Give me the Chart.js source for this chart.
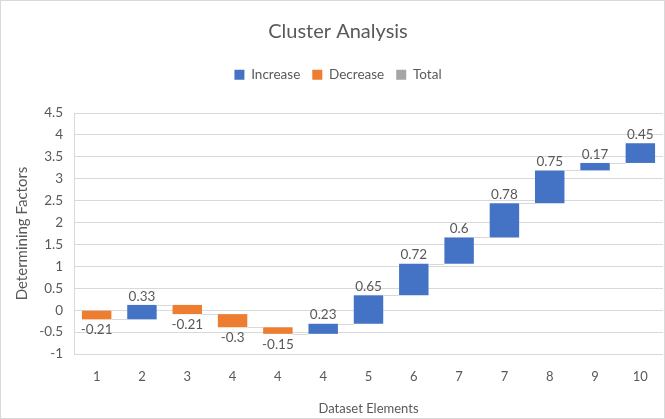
<!DOCTYPE html>
<html>
<head>
<meta charset="utf-8">
<script src="https://cdn.jsdelivr.net/npm/chart.js@4/dist/chart.umd.min.js"></script>
<style>
  html, body { margin: 0; padding: 0; background: #fff; }
  canvas { display: block; }
</style>
</head>
<body>
<canvas id="chart" width="665" height="419"></canvas>
<script>
// waterfall data
const categories = ['1', '2', '3', '4', '4', '4', '5', '6', '7', '7', '8', '9', '10'];
const changes = [-0.21, 0.33, -0.21, -0.3, -0.15, 0.23, 0.65, 0.72, 0.6, 0.78, 0.75, 0.17, 0.45];
const yMin = -1;
const yMax = 4.5;
const yStep = 0.5;

const BLUE = '#4472C4';
const ORANGE = '#ED7D31';
const GRAY = '#A5A5A5';
const TEXT = '#595959';
const FONT = 'Lato, "Liberation Sans", sans-serif';

// build floating [start, end] ranges from the running total
const starts = [];
const ends = [];
let running = 0;
changes.forEach(c => {
    starts.push(running);
    running = +(running + c).toFixed(2);
    ends.push(running);
});
const increaseData = changes.map((c, i) => c >= 0 ? [starts[i], ends[i]] : null);
const decreaseData = changes.map((c, i) => c < 0 ? [starts[i], ends[i]] : null);
const totalData = changes.map(() => null);

// thin gray steps between the bars + the value labels
const waterfallPlugin = {
    id: 'waterfall',
    beforeLayout(chart) {
        // leave some air between the legend and the plot
        const legend = chart.legend;
        if (legend && !legend._patched) {
            const fit = legend.fit;
            legend.fit = function () {
                fit.call(this);
                this.height += 21.5;
            };
            legend._patched = true;
        }
    },
    afterDatasetsDraw(chart) {
        const ctx = chart.ctx;
        const yScale = chart.scales.y;
        const bars = changes.map((c, i) => chart.getDatasetMeta(c >= 0 ? 0 : 1).data[i]);

        ctx.save();
        ctx.strokeStyle = '#D9D9D9';
        ctx.lineWidth = 1;
        for (let i = 0; i < bars.length - 1; i++) {
            const y = Math.round(yScale.getPixelForValue(ends[i])) + 0.5;
            const x1 = bars[i].x + bars[i].width / 2;
            const x2 = bars[i + 1].x - bars[i + 1].width / 2;
            ctx.beginPath();
            ctx.moveTo(x1, y);
            ctx.lineTo(x2, y);
            ctx.stroke();
        }

        ctx.fillStyle = TEXT;
        ctx.font = '13.5px ' + FONT;
        ctx.textAlign = 'center';
        changes.forEach((c, i) => {
            const bar = bars[i];
            const top = Math.min(bar.y, bar.base);
            const bottom = Math.max(bar.y, bar.base);
            if (c >= 0) {
                ctx.textBaseline = 'bottom';
                ctx.fillText(String(c), bar.x, top - 2);
            } else {
                ctx.textBaseline = 'top';
                ctx.fillText(String(c), bar.x, bottom + 4);
            }
        });
        ctx.restore();
    }
};

const borderPlugin = {
    id: 'outerBorder',
    beforeDraw(chart) {
        const ctx = chart.ctx;
        ctx.save();
        ctx.fillStyle = '#fff';
        ctx.fillRect(0, 0, chart.width, chart.height);
        ctx.strokeStyle = '#D9D9D9';
        ctx.strokeRect(0.5, 0.5, chart.width - 1, chart.height - 1);
        ctx.restore();
    }
};

const barStyle = { grouped: false, barPercentage: 0.65, categoryPercentage: 1, borderWidth: 0 };

new Chart(document.getElementById('chart'), {
    type: 'bar',
    data: {
        labels: categories,
        datasets: [
            { label: 'Increase', data: increaseData, backgroundColor: BLUE, ...barStyle },
            { label: 'Decrease', data: decreaseData, backgroundColor: ORANGE, ...barStyle },
            { label: 'Total', data: totalData, backgroundColor: GRAY, ...barStyle }
        ]
    },
    options: {
        responsive: false,
        animation: false,
        layout: { padding: { left: 13, right: 2, top: 0, bottom: 0 } },
        plugins: {
            title: {
                display: true,
                text: 'Cluster Analysis',
                color: TEXT,
                font: { family: FONT, size: 20, weight: 'normal' },
                padding: { top: 20, bottom: 12 }
            },
            legend: {
                position: 'top',
                labels: {
                    color: TEXT,
                    font: { family: FONT, size: 13.5 },
                    boxWidth: 10,
                    boxHeight: 10,
                    padding: 12
                }
            },
            tooltip: { enabled: false }
        },
        scales: {
            x: {
                grid: { display: false },
                border: { display: false },
                ticks: { color: TEXT, font: { family: FONT, size: 13 }, padding: 7, maxRotation: 0 },
                title: {
                    display: true,
                    text: 'Dataset Elements',
                    color: TEXT,
                    font: { family: FONT, size: 13 },
                    padding: { top: 8, bottom: 2 }
                },
                afterFit(scale) { scale.height = 65; }
            },
            y: {
                min: yMin,
                max: yMax,
                grid: { color: '#D9D9D9', drawTicks: false },
                border: { color: '#D9D9D9' },
                ticks: {
                    stepSize: yStep,
                    color: TEXT,
                    font: { family: FONT, size: 13.5 },
                    padding: 11,
                    callback: v => String(v)
                },
                title: {
                    display: true,
                    text: 'Determining Factors',
                    color: TEXT,
                    font: { family: FONT, size: 15 },
                    padding: { top: 0, bottom: 4 }
                },
                afterFit(scale) { scale.width = 61; }
            }
        }
    },
    plugins: [borderPlugin, waterfallPlugin]
});
</script>
</body>
</html>
